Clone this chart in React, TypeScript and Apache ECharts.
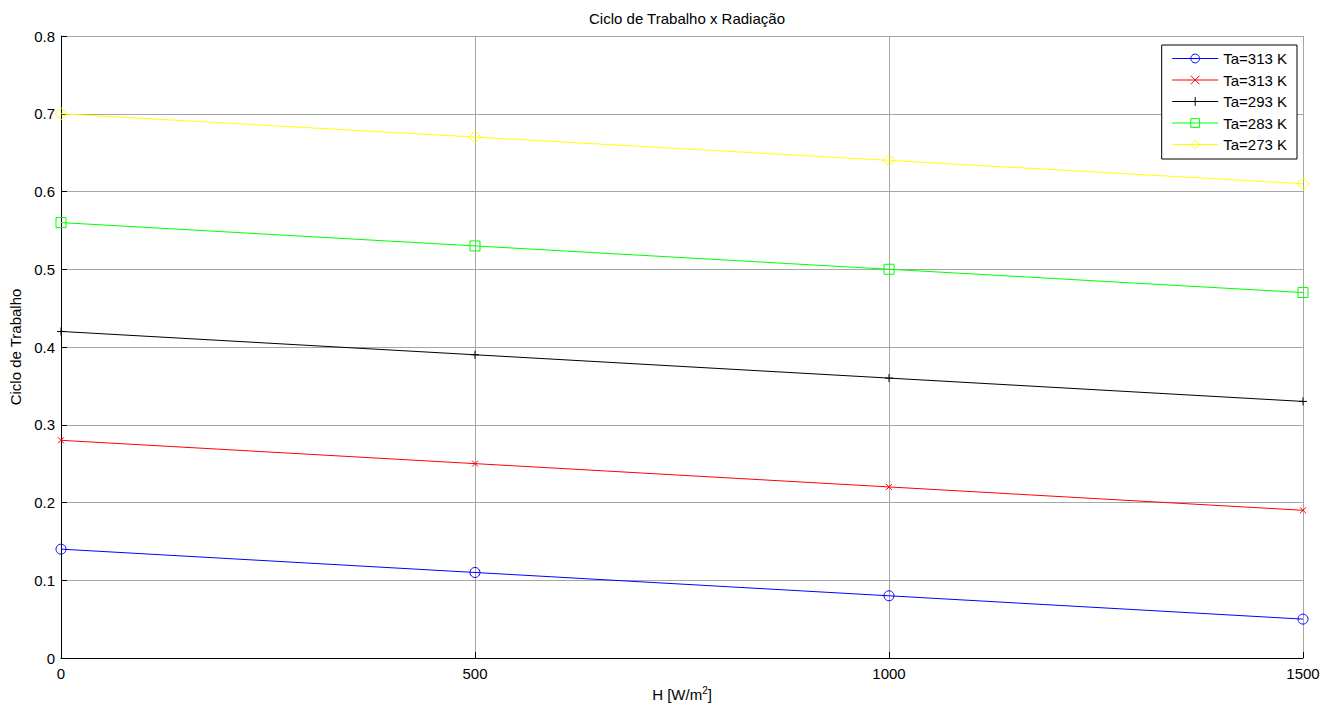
import React, { useEffect, useRef } from "react";
import * as echarts from "echarts";

const radiation = [0, 500, 1000, 1500];
const seriesNames = ["Ta=313 K", "Ta=313 K", "Ta=293 K", "Ta=283 K", "Ta=273 K"];
const blueValues = [0.14, 0.11, 0.08, 0.05];
const redValues = [0.28, 0.25, 0.22, 0.19];
const blackValues = [0.42, 0.39, 0.36, 0.33];
const greenValues = [0.56, 0.53, 0.5, 0.47];
const yellowValues = [0.7, 0.67, 0.64, 0.61];
const xTicks = [0, 500, 1000, 1500];
const yTicks = [0, 0.1, 0.2, 0.3, 0.4, 0.5, 0.6, 0.7, 0.8];

const FONT = "'Liberation Sans', Arial, Helvetica, sans-serif";
const FS = 15;

export default function App() {
  const ref = useRef<HTMLDivElement>(null);
  useEffect(() => {
    if (!ref.current) return;
    const chart = echarts.init(ref.current, undefined, { renderer: "svg" });
    const allValues = [blueValues, redValues, blackValues, greenValues, yellowValues];
    const colors = ["#0000ff", "#ff0000", "#000000", "#00ff00", "#ffff00"];
    const symbols = [
      "circle",
      "path://M0,0L10,10M10,0L0,10",
      "path://M5,0L5,10M0,5L10,5",
      "rect",
      "diamond",
    ];
    const sizes = [10, 6, 8, 10, 12];
    const ids = seriesNames.map((_, i) => "s" + i);
    const series = allValues.map((vals, i) => ({
      name: ids[i],
      type: "line",
      color: colors[i],
      data: vals.map((v, j) => [radiation[j], v]),
      symbol: symbols[i],
      symbolSize: sizes[i],
      showAllSymbol: true,
      lineStyle: { color: colors[i], width: 1 },
      itemStyle: { color: "rgba(0,0,0,0)", borderColor: colors[i], borderWidth: 1 },
      emphasis: { disabled: true },
      z: 3 + i,
    }));
    chart.setOption({
      animation: false,
      backgroundColor: "#ffffff",
      title: {
        text: "Ciclo de Trabalho x Radiação",
        left: 682,
        textAlign: "center",
        top: 6,
        textStyle: { fontFamily: FONT, fontSize: FS, fontWeight: "normal", color: "#000" },
      },
      grid: {
        left: 61,
        right: 28,
        top: 36,
        bottom: 47,
        containLabel: false,
        outerBoundsMode: "none",
      },
      legend: {
        orient: "vertical",
        right: 34,
        top: 45,
        data: ids.map((id, i) => ({
          name: id,
          itemStyle: { color: "rgba(0,0,0,0)", borderColor: colors[i], borderWidth: 1 },
          lineStyle: { color: colors[i], width: 1 },
        })),
        formatter: (name: string) => seriesNames[ids.indexOf(name)],
        itemWidth: 46,
        itemHeight: 11,
        itemGap: 6.5,
        padding: [6, 10, 7, 10],
        backgroundColor: "#ffffff",
        borderColor: "#000000",
        borderWidth: 1,
        borderRadius: 0,
        selectedMode: false,
        textStyle: { fontFamily: FONT, fontSize: FS, color: "#000" },
      },
      xAxis: {
        type: "value",
        min: xTicks[0],
        max: xTicks[xTicks.length - 1],
        interval: 500,
        name: "H [W/m{sup|2}]",
        nameLocation: "middle",
        nameGap: 26,
        nameTextStyle: {
          fontFamily: FONT,
          fontSize: FS,
          color: "#000",
          rich: { sup: { fontSize: 10, verticalAlign: "top", padding: [0, 0, 8, 0], fontFamily: FONT, color: "#000" } },
        },
        axisLine: { show: true, lineStyle: { color: "#000", width: 1 } },
        axisTick: { show: true, inside: true, length: 6, lineStyle: { color: "#000" } },
        axisLabel: {
          fontFamily: FONT,
          fontSize: FS,
          color: "#000",
          margin: 8,
          formatter: (v: number) => String(v),
        },
        splitLine: { show: true, lineStyle: { color: "#a6a6a6", width: 1 } },
      },
      yAxis: {
        type: "value",
        min: yTicks[0],
        max: yTicks[yTicks.length - 1],
        interval: 0.1,
        name: "Ciclo de Trabalho",
        nameLocation: "middle",
        nameGap: 35,
        nameRotate: 90,
        nameTextStyle: { fontFamily: FONT, fontSize: FS, color: "#000" },
        axisLine: { show: true, lineStyle: { color: "#000", width: 1 } },
        axisTick: { show: true, inside: true, length: 6, lineStyle: { color: "#000" } },
        axisLabel: {
          fontFamily: FONT,
          fontSize: FS,
          color: "#000",
          margin: 6,
          formatter: (v: number) => (v === 0 ? "0" : v.toFixed(1)),
        },
        splitLine: { show: true, lineStyle: { color: "#a6a6a6", width: 1 } },
      },
      series,
    });
    return () => chart.dispose();
  }, []);
  return (
    <div
      ref={ref}
      style={{ position: "absolute", left: 0, top: 0, width: 1331, height: 705 }}
    />
  );
}
